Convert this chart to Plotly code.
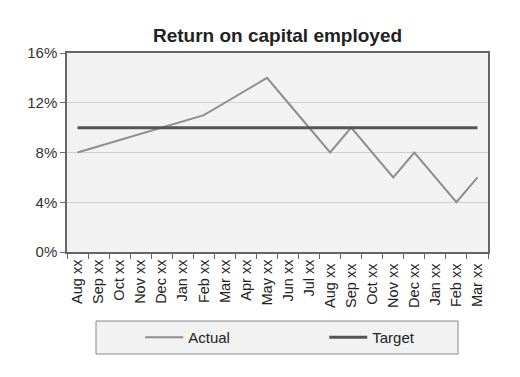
import plotly.graph_objects as go

months = ["Aug xx", "Sep xx", "Oct xx", "Nov xx", "Dec xx", "Jan xx", "Feb xx", "Mar xx",
          "Apr xx", "May xx", "Jun xx", "Jul xx", "Aug xx ", "Sep xx ", "Oct xx ", "Nov xx ",
          "Dec xx ", "Jan xx ", "Feb xx ", "Mar xx "]
actual = [8, 8.5, 9, 9.5, 10, 10.5, 11, 12, 13, 14, 12, 10, 8, 10, 8, 6, 8, 6, 4, 6]
target = [10] * 20
yticks = [0, 4, 8, 12, 16]
ytick_labels = ["0%", "4%", "8%", "12%", "16%"]

font = "Liberation Sans, Arial, sans-serif"

fig = go.Figure()
fig.add_trace(go.Scatter(x=months, y=actual, name="Actual", mode="lines",
                         line=dict(color="#8e8e8e", width=2)))
fig.add_trace(go.Scatter(x=months, y=target, name="Target", mode="lines",
                         line=dict(color="#555555", width=3)))

fig.update_layout(
    width=512, height=369,
    margin=dict(l=59, r=32, t=45, b=125, autoexpand=False),
    paper_bgcolor="white",
    plot_bgcolor="#f2f2f2",
    font=dict(family=font, size=14, color="#222222"),
    title=dict(text="<b>Return on capital employed</b>", xref="paper", x=0.5,
               xanchor="center", y=1 - 27 / 369, yanchor="middle",
               font=dict(size=19, color="#222222")),
    xaxis=dict(type="category", range=[-0.5, 19.5], tickangle=-90, showgrid=False,
               showline=True, linecolor="#666666", linewidth=1.5, mirror=True,
               ticks="outside", tickson="boundaries", ticklen=5, tickcolor="#666666",
               tickfont=dict(size=14.5, color="#222222"), automargin=False),
    yaxis=dict(range=[0, 16], tickvals=yticks, ticktext=ytick_labels, showgrid=True,
               gridcolor="#d0d0d0", gridwidth=1, showline=True, linecolor="#666666",
               linewidth=1.5, mirror=True, ticks="outside", ticklen=5,
               tickcolor="#666666", zeroline=False, automargin=False,
               tickfont=dict(size=15, color="#333333")),
    legend=dict(orientation="h", x=0.174, xanchor="left", y=-0.43, yanchor="middle",
                bgcolor="rgba(0,0,0,0)", borderwidth=0, entrywidth=131,
                itemwidth=38, font=dict(size=15, color="#222222")),
    shapes=[dict(type="rect", xref="paper", yref="paper",
                 x0=(96 - 67) / 421, x1=(458 - 67) / 421,
                 y0=(252 - 354) / 199, y1=(252 - 321) / 199,
                 fillcolor="#f2f2f2", line=dict(color="#888888", width=1),
                 layer="below")],
)

fig.write_html("out.html")
